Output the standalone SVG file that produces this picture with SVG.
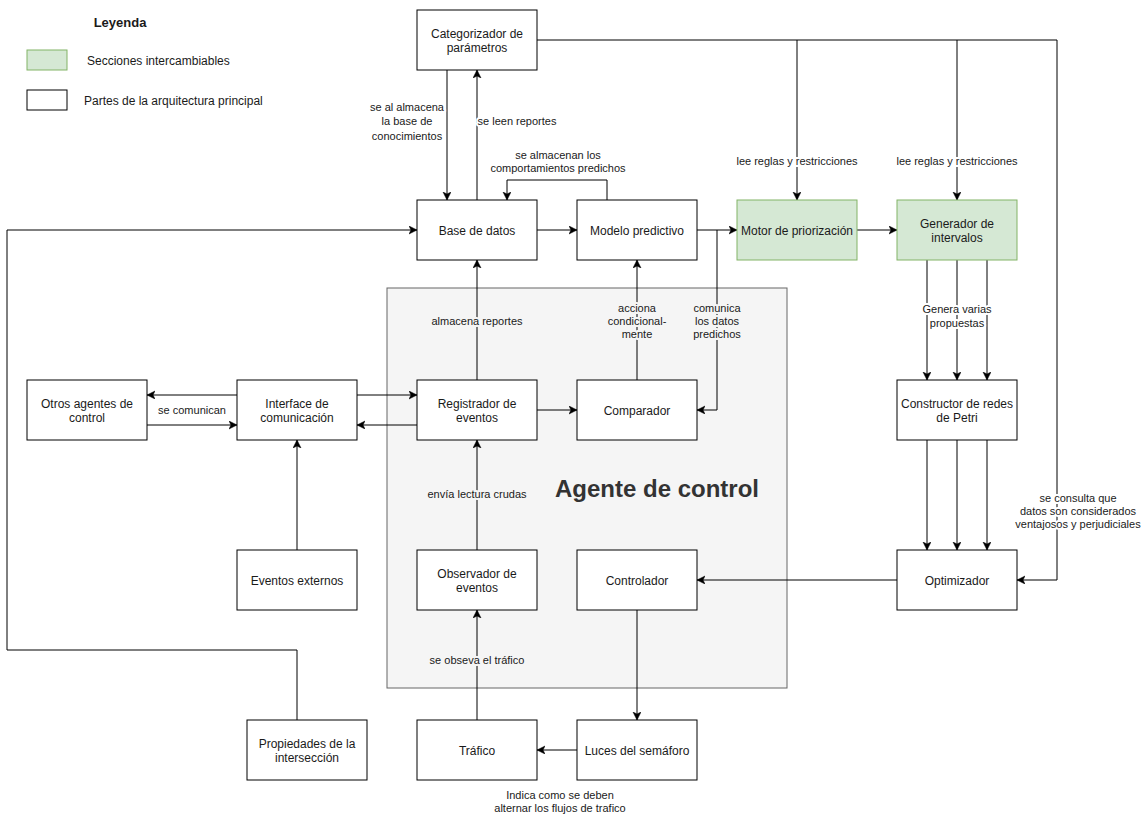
<svg xmlns="http://www.w3.org/2000/svg" width="1141" height="814" viewBox="0 0 1141 814">
<style>
.n rect{fill:#fff;stroke:#000;stroke-width:1}
.g rect{fill:#d5e8d4;stroke:#82b366;stroke-width:1}
text{font-family:"Liberation Sans",Arial,sans-serif;fill:#1a1a1a}
.t{font-size:12px;text-anchor:middle}
.l{font-size:11px;text-anchor:middle;stroke:#fff;stroke-width:4;paint-order:stroke;stroke-linejoin:round}
.li{stroke:#f5f5f5}
.e path{fill:none;stroke:#000;stroke-width:1}
.e .a{marker-end:url(#arr)}
</style>
<defs>
<marker id="arr" markerUnits="userSpaceOnUse" markerWidth="10" markerHeight="10" refX="8" refY="4" orient="auto">
<path d="M0,0 L8,4 L0,8 L2,4 z" fill="#000" stroke="#000" stroke-width="0.5"/>
</marker>
</defs>
<rect width="1141" height="814" fill="#fff"/>
<g id="legend">
<text x="120" y="27" style="font-size:13px;font-weight:bold;text-anchor:middle">Leyenda</text>
<rect x="27" y="50" width="40" height="20" fill="#d5e8d4" stroke="#82b366"/>
<text x="87" y="65" style="font-size:12px">Secciones intercambiables</text>
<rect x="27" y="90" width="40" height="20" fill="#fff" stroke="#000"/>
<text x="84" y="105" style="font-size:12px">Partes de la arquitectura principal</text>
</g>
<g id="agente">
<rect x="387" y="288" width="400" height="400" fill="#f5f5f5" stroke="#666"/>
<text x="657" y="497" style="font-size:24px;font-weight:bold;text-anchor:middle;fill:#333">Agente de control</text>
</g>
<g class="e" id="connectors">
<path class="a" d="M537,40 H1057 V580 H1017"/>
<path class="a" d="M797,40 V200"/>
<path class="a" d="M957,40 V200"/>
<path class="a" d="M447,70 V200"/>
<path class="a" d="M477,200 V70"/>
<path class="a" d="M607,200 V180 H507 V200"/>
<path class="a" d="M537,230 H577"/>
<path class="a" d="M697,230 H737"/>
<path class="a" d="M857,230 H897"/>
<path class="a" d="M717,230 V410 H697"/>
<path class="a" d="M637,380 V260"/>
<path class="a" d="M477,380 V260"/>
<path class="a" d="M537,410 H577"/>
<path class="a" d="M357,395 H417"/>
<path class="a" d="M417,425 H357"/>
<path class="a" d="M237,395 H147"/>
<path class="a" d="M147,425 H237"/>
<path class="a" d="M297,550 V440"/>
<path class="a" d="M477,550 V440"/>
<path class="a" d="M477,720 V610"/>
<path class="a" d="M637,610 V720"/>
<path class="a" d="M577,750 H537"/>
<path class="a" d="M897,580 H697"/>
<path class="a" d="M297,720 V650 H7 V230 H417"/>
<path class="a" d="M927,260 V380"/>
<path class="a" d="M957,260 V380"/>
<path class="a" d="M987,260 V380"/>
<path class="a" d="M927,440 V550"/>
<path class="a" d="M957,440 V550"/>
<path class="a" d="M987,440 V550"/>
<text class="l" x="797" y="165">lee reglas y restricciones</text>
<text class="l" x="957" y="165">lee reglas y restricciones</text>
<text class="l" x="1078" y="502">se consulta que</text>
<text class="l" x="1078" y="515">datos son considerados</text>
<text class="l" x="1078" y="528">ventajosos y perjudiciales</text>
<text class="l" x="407" y="111">se al almacena</text>
<text class="l" x="407" y="125">la base de</text>
<text class="l" x="407" y="140">conocimientos</text>
<text class="l" x="517" y="125">se leen reportes</text>
<text class="l" x="558" y="159">se almacenan los</text>
<text class="l" x="558" y="172">comportamientos predichos</text>
<text class="l li" x="717" y="312">comunica</text>
<text class="l li" x="717" y="325">los datos</text>
<text class="l li" x="717" y="338">predichos</text>
<text class="l li" x="637" y="312">acciona</text>
<text class="l li" x="637" y="325">condicional-</text>
<text class="l li" x="637" y="338">mente</text>
<text class="l li" x="477" y="325">almacena reportes</text>
<text class="l" x="192" y="414">se comunican</text>
<text class="l li" x="477" y="498">envía lectura crudas</text>
<text class="l li" x="477" y="664">se obseva el tráfico</text>
<text class="l" x="560" y="799">Indica como se deben</text>
<text class="l" x="560" y="812">alternar los flujos de trafico</text>
<text class="l" x="957" y="313">Genera varias</text>
<text class="l" x="957" y="327">propuestas</text>
</g>
<g class="n" id="categorizador"><rect x="417" y="10" width="120" height="60"/><text class="t" x="477" y="38">Categorizador de</text><text class="t" x="477" y="52">parámetros</text></g>
<g class="n" id="base"><rect x="417" y="200" width="120" height="60"/><text class="t" x="477" y="235">Base de datos</text></g>
<g class="n" id="modelo"><rect x="577" y="200" width="120" height="60"/><text class="t" x="637" y="235">Modelo predictivo</text></g>
<g class="g" id="motor"><rect x="737" y="200" width="120" height="60"/><text class="t" x="797" y="235">Motor de priorización</text></g>
<g class="g" id="generador"><rect x="897" y="200" width="120" height="60"/><text class="t" x="957" y="228">Generador de</text><text class="t" x="957" y="242">intervalos</text></g>
<g class="n" id="otros"><rect x="27" y="380" width="120" height="60"/><text class="t" x="87" y="408">Otros agentes de</text><text class="t" x="87" y="422">control</text></g>
<g class="n" id="interface"><rect x="237" y="380" width="120" height="60"/><text class="t" x="297" y="408">Interface de</text><text class="t" x="297" y="422">comunicación</text></g>
<g class="n" id="registrador"><rect x="417" y="380" width="120" height="60"/><text class="t" x="477" y="408">Registrador de</text><text class="t" x="477" y="422">eventos</text></g>
<g class="n" id="comparador"><rect x="577" y="380" width="120" height="60"/><text class="t" x="637" y="415">Comparador</text></g>
<g class="n" id="constructor"><rect x="897" y="380" width="120" height="60"/><text class="t" x="957" y="408">Constructor de redes</text><text class="t" x="957" y="422">de Petri</text></g>
<g class="n" id="eventos"><rect x="237" y="550" width="120" height="60"/><text class="t" x="297" y="585">Eventos externos</text></g>
<g class="n" id="observador"><rect x="417" y="550" width="120" height="60"/><text class="t" x="477" y="578">Observador de</text><text class="t" x="477" y="592">eventos</text></g>
<g class="n" id="controlador"><rect x="577" y="550" width="120" height="60"/><text class="t" x="637" y="585">Controlador</text></g>
<g class="n" id="optimizador"><rect x="897" y="550" width="120" height="60"/><text class="t" x="957" y="585">Optimizador</text></g>
<g class="n" id="propiedades"><rect x="247" y="720" width="120" height="60"/><text class="t" x="307" y="748">Propiedades de la</text><text class="t" x="307" y="762">intersección</text></g>
<g class="n" id="trafico"><rect x="417" y="720" width="120" height="60"/><text class="t" x="477" y="755">Tráfico</text></g>
<g class="n" id="luces"><rect x="577" y="720" width="120" height="60"/><text class="t" x="637" y="755">Luces del semáforo</text></g>
</svg>
